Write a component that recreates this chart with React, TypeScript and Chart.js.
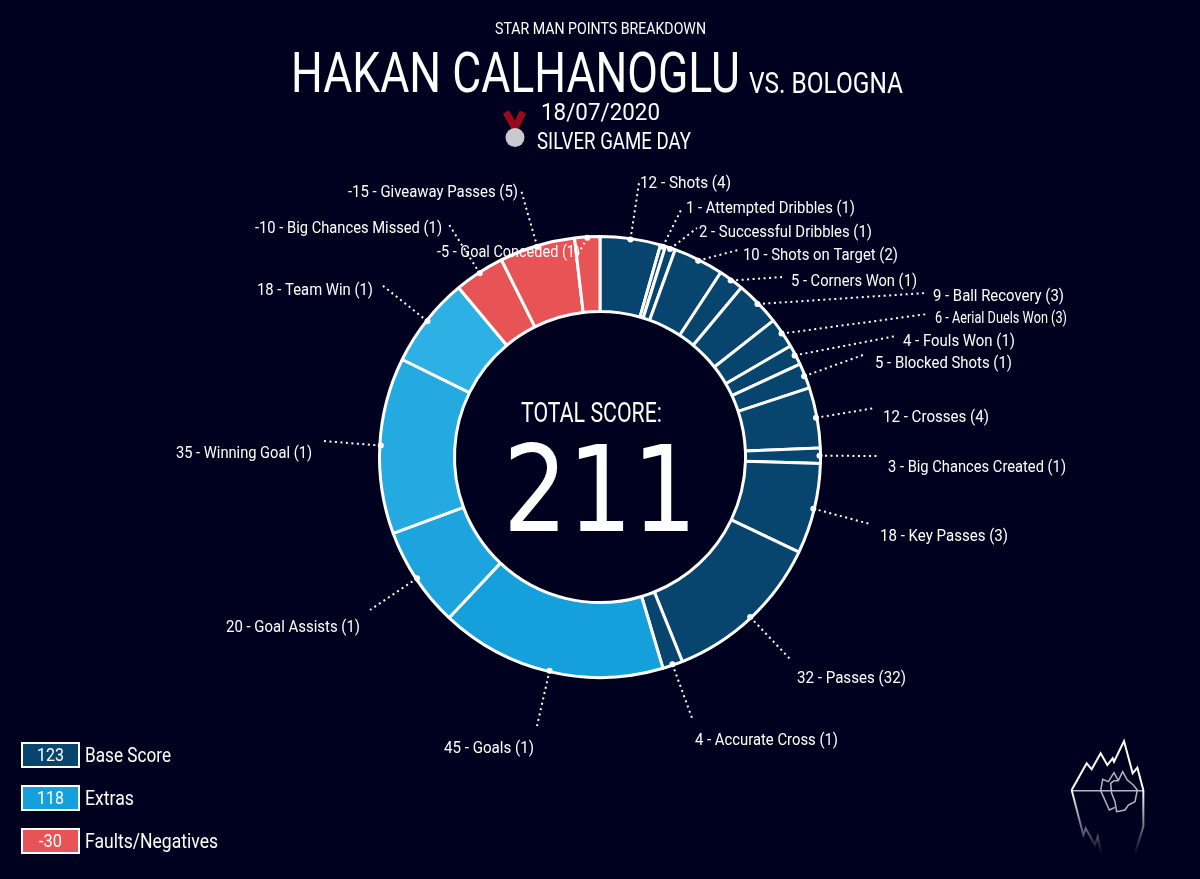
import React, { useEffect, useRef } from "react";
import { Chart, registerables } from "chart.js";

Chart.register(...registerables);

const categories = [
  "Shots", "Attempted Dribbles", "Successful Dribbles", "Shots on Target", "Corners Won",
  "Ball Recovery", "Aerial Duels Won", "Fouls Won", "Blocked Shots", "Crosses",
  "Big Chances Created", "Key Passes", "Passes", "Accurate Cross", "Goals",
  "Goal Assists", "Winning Goal", "Team Win", "Big Chances Missed", "Giveaway Passes", "Goal Conceded",
];
const points = [12, 1, 2, 10, 5, 9, 6, 4, 5, 12, 3, 18, 32, 4, 45, 20, 35, 18, -10, -15, -5];
const counts = [4, 1, 1, 2, 1, 3, 3, 1, 1, 4, 1, 3, 32, 1, 1, 1, 1, 1, 1, 5, 1];
const groups = ["base","base","base","base","base","base","base","base","base","base","base","base","base","base","extra","extra","extra","extra","neg","neg","neg"];
const legendLabels = ["Base Score", "Extras", "Faults/Negatives"];
const legendValues = [123, 118, -30];
const totalScore = 211;

const BG = "#00001f";
const BASE = "#07456f";
const RED = "#e85355";
const extraColors = ["#159fdb", "#1da4de", "#25a9e1", "#2db1e5"];
const FONT = 'Roboto, sans-serif';

// label placement: [text left, text right, text middle y, leader end x, leader end y]
const labelLayout: number[][] = [
  [640, 731, 184, 639, 183], [686, 855, 209, 682, 208], [699, 872, 233, 697, 228], [743, 898, 256, 738, 250],
  [791, 917, 282, 783, 277], [933, 1064, 297, 926, 293], [935, 1067, 319, 928, 314], [903, 1015, 342, 896, 336],
  [875, 1012, 364, 863, 355], [883, 989, 418, 875, 408], [888, 1066, 468, 878, 456], [880, 1008, 537, 870, 524],
  [797, 906, 679, 790, 659], [695, 838, 741, 692, 718], [444, 534, 749, 537, 726], [226, 360, 628, 370, 610],
  [176, 312, 454, 323, 441], [257, 373, 291, 382, 285], [255, 442, 229, 448, 223], [348, 518, 193, 521, 190],
  [437, 580, 253, 578, 254],
];

function fit(ctx: CanvasRenderingContext2D, text: string, x0: number, x1: number, yMid: number, size: number, family = FONT) {
  ctx.save();
  ctx.font = `${size}px ${family}`;
  ctx.fillStyle = "#fff";
  ctx.textAlign = "left";
  ctx.textBaseline = "middle";
  const w = ctx.measureText(text).width;
  ctx.translate(x0, yMid);
  ctx.scale((x1 - x0) / w, 1);
  ctx.fillText(text, 0, 0);
  ctx.restore();
}

function path(ctx: CanvasRenderingContext2D, pts: number[][]) {
  ctx.beginPath();
  pts.forEach((p, i) => (i ? ctx.lineTo(1050 + p[0] / 3, 730 + p[1] / 3) : ctx.moveTo(1050 + p[0] / 3, 730 + p[1] / 3)));
}

const overlay = {
  id: "overlay",
  afterDraw(chart: any) {
    const ctx: CanvasRenderingContext2D = chart.ctx;
    const meta = chart.getDatasetMeta(0);
    meta.data.forEach((arc: any, i: number) => {
      const mid = (arc.startAngle + arc.endAngle) / 2;
      const x = arc.x + Math.cos(mid) * (arc.outerRadius - 1);
      const y = arc.y + Math.sin(mid) * (arc.outerRadius - 1);
      const l = labelLayout[i];
      ctx.save();
      ctx.strokeStyle = "#fff";
      ctx.lineWidth = 2;
      ctx.setLineDash([2, 3.5]);
      ctx.beginPath();
      ctx.moveTo(x, y);
      ctx.lineTo(l[3], l[4]);
      ctx.stroke();
      ctx.setLineDash([]);
      ctx.fillStyle = "#fff";
      ctx.beginPath();
      ctx.arc(x, y, 3, 0, Math.PI * 2);
      ctx.fill();
      ctx.restore();
      fit(ctx, `${points[i]} - ${categories[i]} (${counts[i]})`, l[0], l[1], l[2], 17);
    });
    fit(ctx, "STAR MAN POINTS BREAKDOWN", 495, 706, 30, 17);
    fit(ctx, "HAKAN CALHANOGLU", 291, 740, 78, 56);
    fit(ctx, "VS. BOLOGNA", 749, 903, 85, 30);
    fit(ctx, "18/07/2020", 541, 660, 114, 24);
    fit(ctx, "SILVER GAME DAY", 537, 691, 143, 23);
    // medal
    ctx.save();
    ctx.strokeStyle = "#9a0a1c";
    ctx.lineWidth = 7;
    ctx.beginPath();
    ctx.moveTo(506, 112);
    ctx.lineTo(515, 128);
    ctx.lineTo(523, 112);
    ctx.stroke();
    ctx.fillStyle = "#c9c9cf";
    ctx.beginPath();
    ctx.arc(515, 137.5, 9.5, 0, Math.PI * 2);
    ctx.fill();
    ctx.restore();
    // centre
    fit(ctx, "TOTAL SCORE:", 521, 662, 415, 27);
    fit(ctx, String(totalScore), 503, 697, 500, 119, '"DejaVu Sans", sans-serif');
    // legend
    const fills = [BASE, "#159fdb", RED];
    const tops = [743, 786, 829];
    const rights = [171, 134, 218];
    legendLabels.forEach((t, i) => {
      ctx.save();
      ctx.fillStyle = fills[i];
      ctx.strokeStyle = "#fff";
      ctx.lineWidth = 2;
      ctx.fillRect(22, tops[i], 57, 24);
      ctx.strokeRect(22, tops[i], 57, 24);
      ctx.restore();
      fit(ctx, String(legendValues[i]), i === 2 ? 39 : 37, i === 2 ? 62 : 64, tops[i] + 13, 18);
      fit(ctx, t, 85, rights[i], tops[i] + 14, 20);
    });
    // iceberg mark
    ctx.save();
    ctx.strokeStyle = "#fff";
    ctx.lineWidth = 2;
    path(ctx, [[65,180],[110,100],[125,118],[152,70],[172,105],[188,85],[192,95],[222,33],[248,130],[262,113],[280,180]]);
    ctx.stroke();
    ctx.strokeStyle = "#b5b5c0";
    ctx.lineWidth = 1.5;
    path(ctx, [[65,182],[280,182]]);
    ctx.stroke();
    path(ctx, [[185,190],[182,160],[192,152],[205,152],[218,125],[232,150],[250,165],[262,180],[255,215],[235,225],[225,240],[200,245],[195,215],[185,190]]);
    ctx.stroke();
    path(ctx, [[152,182],[158,148],[175,155],[192,128],[205,152]]);
    ctx.stroke();
    path(ctx, [[152,182],[178,240],[195,232]]);
    ctx.stroke();
    const g = ctx.createLinearGradient(0, 790, 0, 855);
    g.addColorStop(0, "#ffffff");
    g.addColorStop(1, "rgba(255,255,255,0)");
    ctx.strokeStyle = g;
    ctx.lineWidth = 2;
    path(ctx, [[65,180],[100,315],[107,295],[135,345],[143,320],[155,375]]);
    ctx.stroke();
    path(ctx, [[280,180],[280,290],[255,370]]);
    ctx.stroke();
    ctx.restore();
  },
};

export default function App() {
  const ref = useRef<HTMLCanvasElement>(null);
  useEffect(() => {
    document.body.style.margin = "0";
    document.body.style.background = BG;
    let e = 0;
    const colors = groups.map((g) => (g === "base" ? BASE : g === "neg" ? RED : extraColors[Math.min(e++, 3)]));
    const chart = new Chart(ref.current as HTMLCanvasElement, {
      type: "doughnut",
      data: {
        labels: categories,
        datasets: [{ data: points.map((p) => Math.abs(p)), backgroundColor: colors, borderColor: "#ffffff", borderWidth: 3, hoverOffset: 0 }],
      },
      options: {
        responsive: false,
        animation: false,
        cutout: "66%",
        layout: { padding: { left: 378, right: 378, top: 235, bottom: 200 } },
        plugins: { legend: { display: false }, tooltip: { enabled: false } },
      },
      plugins: [overlay],
    } as any);
    return () => chart.destroy();
  }, []);
  return (
    <div style={{ width: 1200, height: 879, background: BG }}>
      <canvas ref={ref} width={1200} height={879} style={{ display: "block" }} />
    </div>
  );
}
